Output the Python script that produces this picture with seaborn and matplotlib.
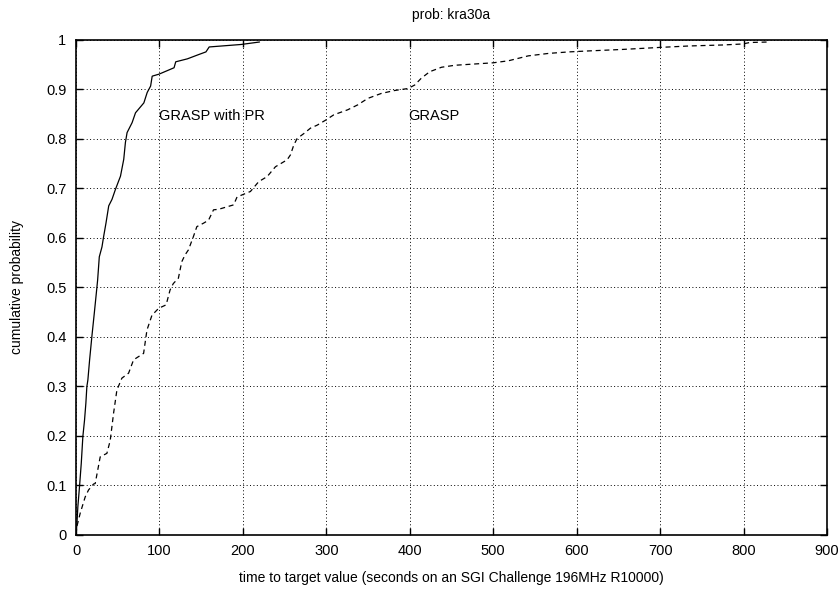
"""Curvas de probabilidade acumulada (time-to-target) para GRASP e GRASP com PR."""

import matplotlib

matplotlib.use("Agg")
import matplotlib.pyplot as plt
import pandas as pd
import seaborn as sns

# GRASP with PR (linha sólida): tempo (s) x probabilidade acumulada
pr_time = [0, 1, 2.2, 4.2, 6.3, 8.2, 10.2, 11.8, 13, 14.2, 16.3, 19, 21.9,
           24.3, 25.9, 27.9, 31.1, 33.1, 35.9, 39.2, 43.1, 47.2, 53.3, 57.2,
           59.2, 61.2, 67.2, 71.3, 81.3, 85.3, 89.4, 91.3, 99.4, 117.5, 119.5,
           133.5, 147.6, 155.7, 159.6, 197.8, 219.9]
pr_prob = [0, 0.019, 0.056, 0.097, 0.144, 0.198, 0.231, 0.265, 0.299, 0.312,
           0.353, 0.40, 0.447, 0.487, 0.514, 0.561, 0.581, 0.602, 0.629, 0.664,
           0.677, 0.697, 0.724, 0.758, 0.792, 0.812, 0.832, 0.852, 0.872,
           0.893, 0.906, 0.926, 0.93, 0.943, 0.955, 0.961, 0.97, 0.975, 0.985,
           0.99, 0.995]

# GRASP (linha tracejada)
grasp_time = [0, 1, 5, 11, 15, 21, 23, 29, 37, 41, 45, 49, 55, 63, 69, 81,
              85, 91, 99, 108, 112.7, 116.6, 122.7, 126.7, 130.7, 134.7, 140.7,
              144.8, 152.8, 158.8, 164.8, 170.8, 188.9, 193, 209, 219, 229,
              239, 253, 257, 261, 265, 273, 281, 289, 299, 309, 325.5, 337.6,
              349.6, 365.7, 381.7, 397.8, 405.8, 413.9, 423.9, 438, 454, 500,
              518, 542, 566.5, 590.6, 614.7, 655, 699, 735, 775, 799, 807.5,
              829.5]
grasp_prob = [0, 0.016, 0.043, 0.076, 0.09, 0.102, 0.103, 0.157, 0.164, 0.19,
              0.245, 0.292, 0.316, 0.326, 0.353, 0.366, 0.413, 0.443, 0.457,
              0.464, 0.494, 0.507, 0.518, 0.551, 0.565, 0.575, 0.602, 0.622,
              0.629, 0.635, 0.656, 0.657, 0.666, 0.682, 0.693, 0.713, 0.723,
              0.743, 0.757, 0.767, 0.787, 0.80, 0.81, 0.821, 0.827, 0.837,
              0.848, 0.858, 0.868, 0.881, 0.891, 0.897, 0.901, 0.908, 0.922,
              0.935, 0.944, 0.948, 0.953, 0.957, 0.967, 0.972, 0.975, 0.977,
              0.98, 0.984, 0.987, 0.989, 0.991, 0.994, 0.995]

x_ticks = list(range(0, 901, 100))
y_ticks = [0, 0.1, 0.2, 0.3, 0.4, 0.5, 0.6, 0.7, 0.8, 0.9, 1]
y_tick_labels = ["0", "0.1", "0.2", "0.3", "0.4", "0.5", "0.6", "0.7", "0.8",
                 "0.9", "1"]

sns.set_style("ticks")
plt.rcParams["font.family"] = ["Liberation Sans", "DejaVu Sans"]
plt.rcParams["font.size"] = 10
plt.rcParams["text.color"] = "black"
plt.rcParams["axes.labelcolor"] = "black"

pr_df = pd.DataFrame({"tempo": pr_time, "prob": pr_prob})
grasp_df = pd.DataFrame({"tempo": grasp_time, "prob": grasp_prob})

fig = plt.figure(figsize=(8.39, 5.90), dpi=100)
ax = fig.add_axes([0.0906, 0.094, 0.8951, 0.839])

sns.lineplot(data=pr_df, x="tempo", y="prob", estimator=None, sort=False,
             color="black", linewidth=0.9, ax=ax)
sns.lineplot(data=grasp_df, x="tempo", y="prob", estimator=None, sort=False,
             color="black", linewidth=0.9, linestyle=(0, (4, 3)), ax=ax)

ax.set_xlim(0, 900)
ax.set_ylim(0, 1)
ax.set_xticks(x_ticks)
ax.set_yticks(y_ticks)
ax.set_yticklabels(y_tick_labels)
ax.grid(True, color="black", linestyle=(0, (1, 2.5)), linewidth=0.7)
ax.tick_params(direction="in", length=5, width=1.0, top=True, right=True,
               colors="black", labelcolor="black", labelsize=10.5, pad=7)
for spine in ax.spines.values():
    spine.set_linewidth(1.2)
    spine.set_color("black")

ax.text(100, 0.845, "GRASP with PR", va="center", ha="left", fontsize=10.5)
ax.text(398, 0.845, "GRASP", va="center", ha="left", fontsize=10.5)

# título acima do quadro, ancorado em coordenadas do eixo
ax.text(0.5, 1.0, "prob: kra30a", transform=ax.transAxes, ha="center",
        va="bottom", fontsize=10).set_y(1.036)
ax.set_xlabel("time to target value (seconds on an SGI Challenge 196MHz R10000)",
              fontsize=10, labelpad=9)
ax.set_ylabel("cumulative probability", fontsize=10, labelpad=16)

fig.savefig("out.png", dpi=100)
plt.close(fig)
